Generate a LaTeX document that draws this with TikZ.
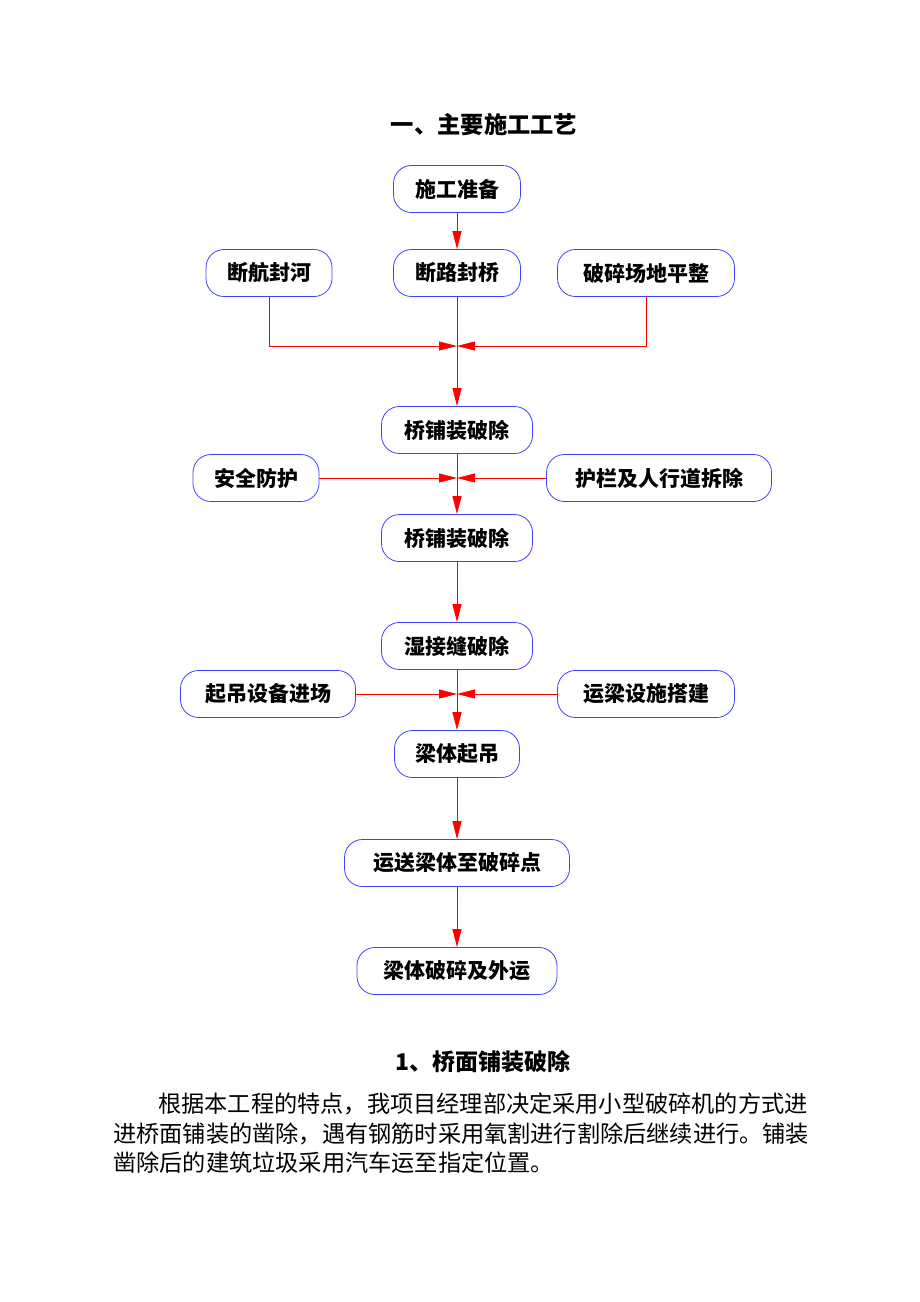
\documentclass[tikz,border=0pt]{standalone}
\usepackage{fontspec}
\setmainfont{Noto Sans CJK SC}
\usetikzlibrary{arrows.meta}

\tikzset{
  stepbox/.style={draw=blue!75!white,line width=.8pt,rounded corners=18pt,
    minimum height=47pt,inner sep=0pt,font=\fontsize{21}{21}\selectfont\bfseries},
  flow/.style={red,line width=.8pt,-{Triangle[length=18pt,width=9pt]}},
  bodyline/.style={anchor=west,inner sep=0pt,font=\fontsize{23.2}{24}\selectfont}
}

\begin{document}
\begin{tikzpicture}[x=1pt,y=-1pt]
\useasboundingbox (0,0) rectangle (920,1302);

%-------------------------------------------- Title
\node (title) at (484,125) {\fontsize{23.3}{24}\selectfont\bfseries 一、主要施工工艺};

%-------------------------------------------- Boxes
\node[stepbox,minimum width=127pt] (prep)     at (457,189) {施工准备};
\node[stepbox,minimum width=126pt] (river)    at (269,273) {断航封河};
\node[stepbox,minimum width=127pt] (road)     at (457,273) {断路封桥};
\node[stepbox,minimum width=177pt] (site)     at (646,273) {破碎场地平整};

\node[stepbox,minimum width=151pt] (deckA)    at (457,430) {桥铺装破除};
\node[stepbox,minimum width=126pt] (safety)   at (256,478) {安全防护};
\node[stepbox,minimum width=225pt] (rail)     at (659,478) {护栏及人行道拆除};
\node[stepbox,minimum width=151pt] (deckB)    at (457,538) {桥铺装破除};

\node[stepbox,minimum width=151pt] (joint)    at (457,646) {湿接缝破除};
\node[stepbox,minimum width=175pt] (crane)    at (268,694) {起吊设备进场};
\node[stepbox,minimum width=177pt] (haulway)  at (646,694) {运梁设施搭建};
\node[stepbox,minimum width=125pt] (lift)     at (457,754) {梁体起吊};

\node[stepbox,minimum width=225pt] (carry)    at (457,863) {运送梁体至破碎点};
\node[stepbox,minimum width=200pt] (crush)    at (457,971) {梁体破碎及外运};

%-------------------------------------------- Junctions
\coordinate (jA) at (457,346);
\coordinate (jB) at (457,478);
\coordinate (jC) at (457,694);

%-------------------------------------------- Connectors
\draw[flow] (prep) -- (road);
\draw[flow] (river.south) |- (jA);
\draw[flow] (site.south) |- (jA);
\draw[flow] (road) -- (deckA);

\draw[flow] (safety) -- (jB);
\draw[flow] (rail) -- (jB);
\draw[flow] (deckA) -- (deckB);

\draw[flow] (deckB) -- (joint);

\draw[flow] (crane) -- (jC);
\draw[flow] (haulway) -- (jC);
\draw[flow] (joint) -- (lift);

\draw[flow] (lift) -- (carry);
\draw[flow] (carry) -- (crush);

%-------------------------------------------- Text below
\node (sub) at (483,1062) {\fontsize{23}{24}\selectfont\bfseries 1、桥面铺装破除};
\node[bodyline] (parA) at (158,1104) {根据本工程的特点，我项目经理部决定采用小型破碎机的方式进};
\node[bodyline] (parB) at (113,1134) {进桥面铺装的凿除，遇有钢筋时采用氧割进行割除后继续进行。铺装};
\node[bodyline] (parC) at (113,1163) {凿除后的建筑垃圾采用汽车运至指定位置。};

\end{tikzpicture}
\end{document}
